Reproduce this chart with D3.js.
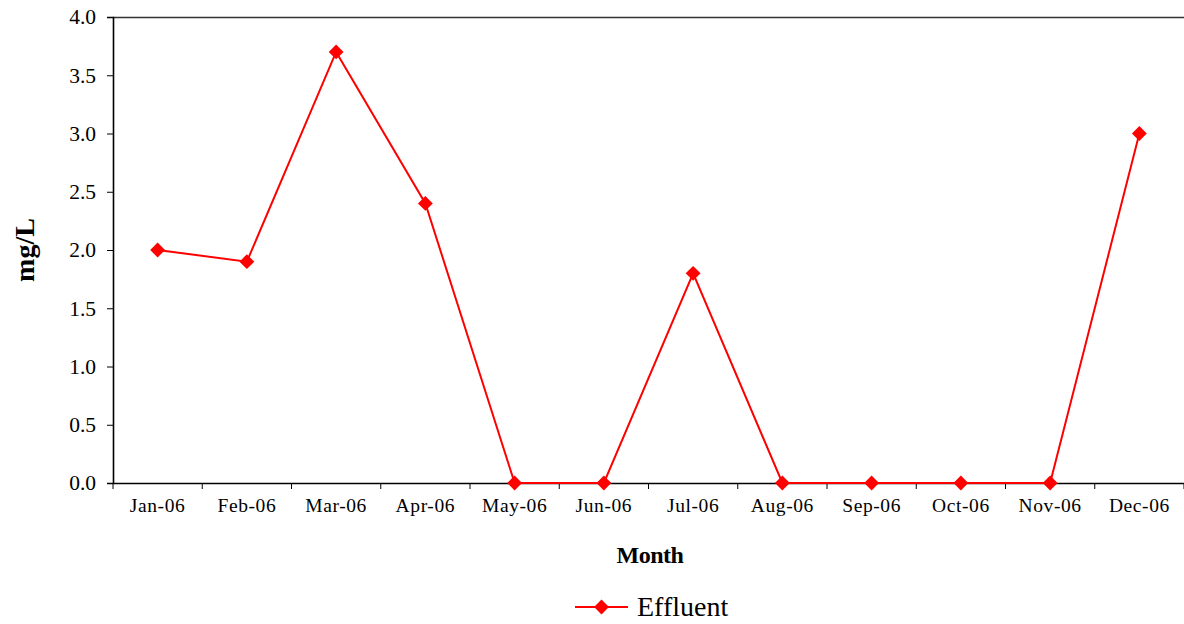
<!DOCTYPE html>
<html>
<head>
<meta charset="utf-8">
<script src="https://cdn.jsdelivr.net/npm/d3@7"></script>
<style>
  html, body { margin: 0; padding: 0; background: #fff; }
  svg { display: block; }
  svg text { font-family: "Liberation Serif", "Times New Roman", serif; }
</style>
</head>
<body>
<svg id="chart" width="1184" height="624"></svg>
<script>
// Monthly effluent concentration, 2006
const months = ["Jan-06", "Feb-06", "Mar-06", "Apr-06", "May-06", "Jun-06",
                "Jul-06", "Aug-06", "Sep-06", "Oct-06", "Nov-06", "Dec-06"];
const effluent = [2.0, 1.9, 3.7, 2.4, 0, 0, 1.8, 0, 0, 0, 0, 3.0];
const yTicks = [0, 0.5, 1.0, 1.5, 2.0, 2.5, 3.0, 3.5, 4.0];
const seriesName = "Effluent";

const svg = d3.select("#chart");
const plotL = 113, plotR = 1184, plotT = 17, plotB = 483;
const red = "#ff0000";
const serif = "Liberation Serif, Times New Roman, serif";

const x = d3.scaleBand().domain(months).range([plotL, plotR]);
const y = d3.scaleLinear().domain([0, 4]).range([plotB, plotT]);

// plot area top border
svg.append("line")
  .attr("x1", plotL).attr("x2", plotR)
  .attr("y1", plotT + 0.5).attr("y2", plotT + 0.5)
  .attr("stroke", "#333").attr("stroke-width", 1.3);

// y axis
const yAxis = svg.append("g")
  .attr("transform", `translate(${plotL},0)`)
  .call(d3.axisLeft(y).tickValues(yTicks).tickFormat(d3.format(".1f")).tickSize(6).tickPadding(11));
yAxis.attr("font-family", serif);
yAxis.select(".domain").attr("stroke", "#000").attr("stroke-width", 1.6);
yAxis.selectAll(".tick line").attr("stroke", "#000").attr("stroke-width", 1);
yAxis.selectAll("text")
  .attr("font-size", 21.5).attr("fill", "#000")
  .attr("font-family", serif);

// x axis: ticks on category boundaries
const xAxis = svg.append("g")
  .attr("transform", `translate(0,${plotB})`)
  .call(d3.axisBottom(x).tickSize(0).tickPadding(15));
xAxis.attr("font-family", serif);
xAxis.select(".domain").attr("stroke", "#000").attr("stroke-width", 1.6);
xAxis.selectAll("text")
  .attr("font-size", 19.5).attr("fill", "#000")
  .attr("letter-spacing", 0.6)
  .attr("font-family", serif);
const bounds = months.map(m => x(m)).concat([x(months[months.length - 1]) + x.bandwidth()]);
xAxis.selectAll(".bound").data(bounds).enter().append("line")
  .attr("class", "bound")
  .attr("x1", d => d).attr("x2", d => d)
  .attr("y1", 0).attr("y2", 6)
  .attr("stroke", "#000").attr("stroke-width", 1);

// axis titles
svg.append("text")
  .attr("x", 650).attr("y", 563)
  .attr("text-anchor", "middle")
  .attr("font-family", serif)
  .attr("font-size", 24).attr("font-weight", "bold")
  .attr("letter-spacing", -0.5)
  .text("Month");

svg.append("text")
  .attr("transform", "translate(34,250) rotate(-90)")
  .attr("text-anchor", "middle")
  .attr("font-family", serif)
  .attr("font-size", 28).attr("font-weight", "bold")
  .text("mg/L");

// series
const cx = d => x(d) + x.bandwidth() / 2;
const line = d3.line()
  .x((d, i) => cx(months[i]))
  .y(d => y(d));

svg.append("path")
  .datum(effluent)
  .attr("d", line)
  .attr("fill", "none")
  .attr("stroke", red)
  .attr("stroke-width", 2);

const diamond = d3.symbol().type(d3.symbolSquare).size(110);
svg.selectAll(".pt").data(effluent).enter().append("path")
  .attr("class", "pt")
  .attr("d", diamond)
  .attr("transform", (d, i) => `translate(${cx(months[i])},${y(d)}) rotate(45)`)
  .attr("fill", red);

// legend
const leg = svg.append("g").attr("transform", "translate(575,607)");
leg.append("line")
  .attr("x1", 0).attr("x2", 53).attr("y1", 0).attr("y2", 0)
  .attr("stroke", red).attr("stroke-width", 2);
leg.append("path")
  .attr("d", diamond)
  .attr("transform", "translate(26.5,0) rotate(45)")
  .attr("fill", red);
leg.append("text")
  .attr("x", 62).attr("y", 9)
  .attr("font-family", serif)
  .attr("font-size", 28)
  .text(seriesName);
</script>
</body>
</html>
